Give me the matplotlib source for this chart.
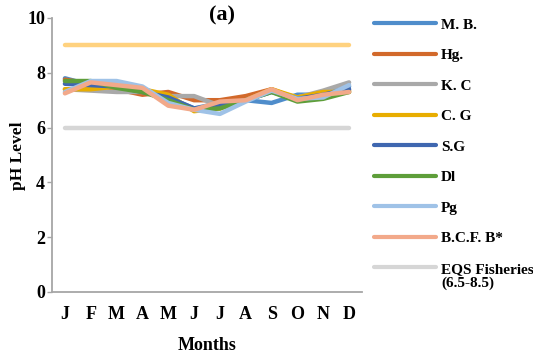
import matplotlib
matplotlib.use("Agg")
import matplotlib.pyplot as plt
import numpy as np

months = ["J", "F", "M", "A", "M", "J", "J", "A", "S", "O", "N", "D"]

mb = [7.8, 7.55, 7.45, 7.3, 7.1, 6.7, 6.9, 7.0, 6.9, 7.2, 7.2, 7.5]
hg = [7.75, 7.6, 7.4, 7.2, 7.3, 7.0, 7.0, 7.15, 7.4, 7.05, 7.2, 7.35]
kc = [7.4, 7.35, 7.3, 7.3, 7.15, 7.15, 6.8, 7.0, 7.35, 7.1, 7.35, 7.65]
cg = [7.4, 7.4, 7.5, 7.4, 7.2, 6.6, 6.7, 7.0, 7.4, 7.1, 7.3, 7.3]
sg = [7.6, 7.55, 7.5, 7.3, 7.1, 6.7, 6.8, 7.0, 7.3, 7.05, 7.2, 7.4]
dl = [7.7, 7.7, 7.45, 7.3, 7.0, 6.65, 6.7, 7.0, 7.3, 6.95, 7.05, 7.3]
pg = [7.3, 7.7, 7.7, 7.5, 6.9, 6.65, 6.5, 6.95, 7.35, 7.05, 7.1, 7.55]
bcfb = [7.25, 7.65, 7.55, 7.45, 6.8, 6.65, 6.95, 7.0, 7.4, 7.0, 7.2, 7.3]
eqs_low = [6] * 12
eqs_high = [9] * 12

labels = ["M. B.", "Hg.", "K. C", "C. G", "S.G", "Dl", "Pg", "B.C.F. B*",
          "EQS Fisheries"]
colors = ["#4F8DCB", "#D2692B", "#A9A9A9", "#E8AD00", "#3F67B0", "#5E9E3A",
          "#9FC2E7", "#F2A98A", "#D6D6D6"]

plt.rcParams["font.family"] = ["Liberation Serif", "DejaVu Serif"]
plt.rcParams["font.weight"] = "bold"

fig = plt.figure(figsize=(5.33, 3.58), dpi=100)
ax = fig.add_axes([52 / 533, 1 - 292 / 358, 310 / 533, 274 / 358])

x = np.arange(len(months))
# upper limit line (not in legend)
ax.plot(x, eqs_high, color="#FFD27F", lw=3.2, solid_capstyle="round")
series = [mb, hg, kc, cg, sg, dl, pg, bcfb, eqs_low]
order = [8, 0, 1, 2, 3, 4, 5, 6, 7]
handles = [None] * len(series)
for i in order:
    h, = ax.plot(x, series[i], color=colors[i], lw=3.2, solid_capstyle="round",
                 label=labels[i])
    handles[i] = h

ax.set_xlim(-0.5, 11.5)
ax.set_ylim(0, 10)
ax.set_yticks([0, 2, 4, 6, 8, 10])
ax.set_xticks(x)
ax.set_xticklabels(months)
ax.tick_params(axis="x", length=0, pad=10, labelsize=13)
ax.tick_params(axis="y", length=3.6, color="#A6A6A6", width=1, labelsize=13, pad=1.5)
for s in ["top", "right"]:
    ax.spines[s].set_visible(False)
for s in ["left", "bottom"]:
    ax.spines[s].set_color("#A6A6A6")
    ax.spines[s].set_linewidth(1.3)

fig.text(18 / 533, 1 - 156 / 358, "pH Level", fontsize=12.5, fontweight="bold",
         rotation=90, ha="center", va="center")
ax.set_xlabel("Months", fontsize=13, fontweight="bold", labelpad=10)
fig.text(222 / 533, 1 - 15 / 358, "(a)", fontsize=16, fontweight="bold",
         ha="center", va="center")

leg = fig.legend(handles=handles, loc="upper left",
                 bbox_to_anchor=(374 / 533, 1 - 18 / 358), frameon=False,
                 fontsize=11, handlelength=4.05, labelspacing=1.1,
                 borderpad=0, borderaxespad=0, handletextpad=0.35)
for line in leg.get_lines():
    line.set_linewidth(3)
    line.set_solid_capstyle("round")

# second line of the EQS legend entry, placed under its label
fig.canvas.draw()
bb = leg.get_texts()[-1].get_window_extent()
fig.text(bb.x0 / fig.bbox.width, (bb.y0 - 1) / fig.bbox.height, "(6.5-8.5)",
         fontsize=11, fontweight="bold", ha="left", va="top")

fig.savefig("out.png", dpi=100)
